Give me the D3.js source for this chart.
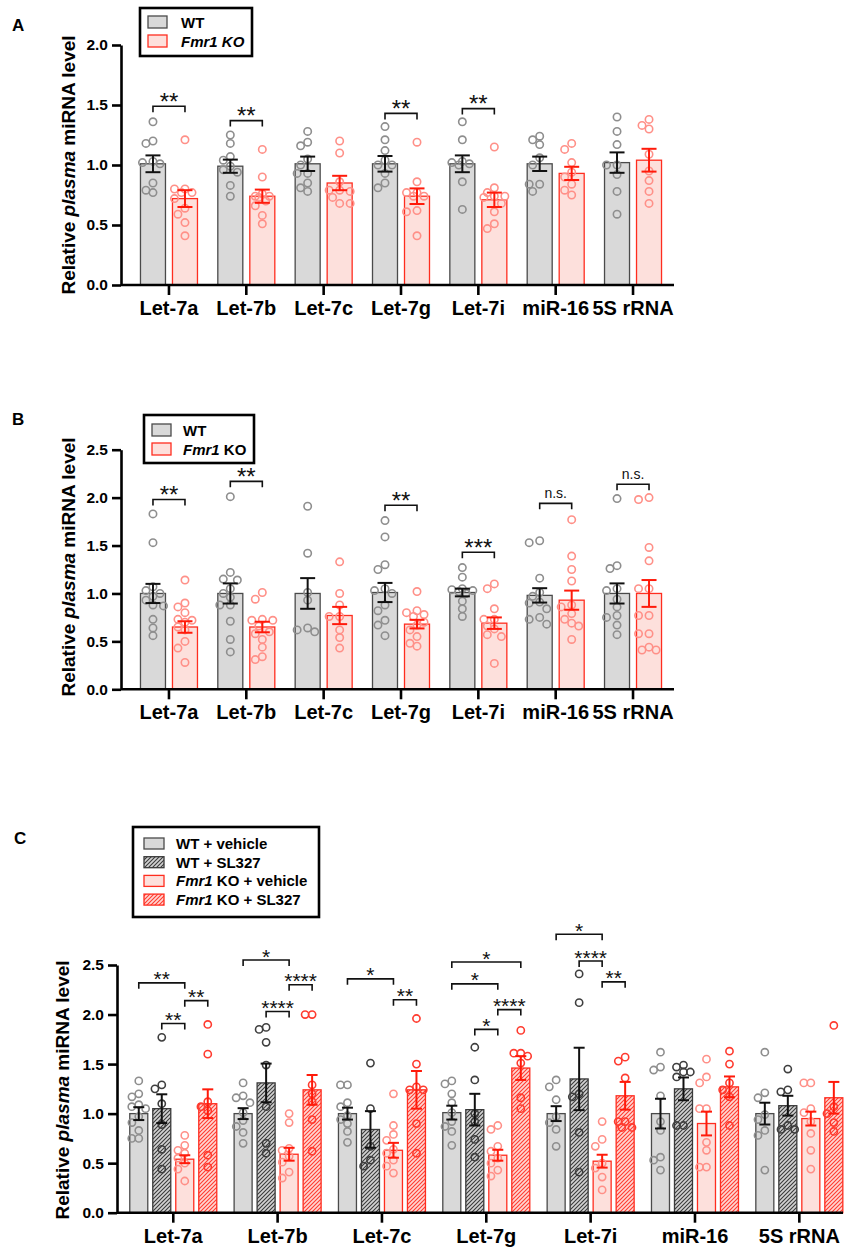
<!DOCTYPE html>
<html>
<head>
<meta charset="utf-8">
<script src="https://cdn.jsdelivr.net/npm/d3@7"></script>
<style>
  body { margin: 0; background: #fff; }
  text { font-family: "Liberation Sans", Arial, sans-serif; }
</style>
</head>
<body>
<div id="chart"></div>
<script>
// ---- data ----
const categories = ['Let-7a', 'Let-7b', 'Let-7c', 'Let-7g', 'Let-7i', 'miR-16', '5S rRNA']

// panel A
const aWtMean = [1.01, 0.99, 1.01, 1.01, 1.01, 1.01, 1.02]
const aWtSem  = [0.07, 0.055, 0.06, 0.065, 0.07, 0.06, 0.085]
const aKoMean = [0.72, 0.74, 0.85, 0.74, 0.71, 0.93, 1.04]
const aKoSem  = [0.07, 0.055, 0.06, 0.065, 0.06, 0.055, 0.095]
const aWtPts = [
  [1.36, 1.20, 1.18, 1.03, 1.02, 1.01, 0.85, 0.79, 0.77],
  [1.25, 1.18, 1.07, 1.04, 0.99, 0.96, 0.94, 0.83, 0.74],
  [1.28, 1.19, 1.16, 1.05, 1.00, 0.93, 0.93, 0.85, 0.81, 0.78],
  [1.32, 1.21, 1.12, 1.04, 1.00, 1.00, 0.93, 0.85, 0.81],
  [1.36, 1.21, 1.03, 1.02, 1.01, 1.00, 0.86, 0.63],
  [1.24, 1.21, 1.17, 1.06, 1.00, 0.84, 0.84, 0.78],
  [1.40, 1.28, 1.17, 1.00, 1.00, 0.92, 0.78, 0.59]
]
const aKoPts = [
  [1.21, 0.80, 0.80, 0.77, 0.77, 0.72, 0.64, 0.59, 0.52, 0.41],
  [1.13, 0.90, 0.76, 0.74, 0.74, 0.73, 0.70, 0.66, 0.58, 0.51],
  [1.20, 1.10, 0.86, 0.79, 0.79, 0.78, 0.73, 0.68, 0.68],
  [1.19, 0.86, 0.77, 0.77, 0.74, 0.74, 0.62, 0.61, 0.41],
  [1.15, 0.81, 0.77, 0.74, 0.74, 0.73, 0.68, 0.61, 0.51, 0.47],
  [1.18, 1.13, 1.02, 0.94, 0.90, 0.84, 0.79, 0.75],
  [1.38, 1.33, 1.30, 1.09, 0.95, 0.87, 0.78, 0.68]
]
const aSig = [
  {cat: 'Let-7a', y: 1.49, label: '**'},
  {cat: 'Let-7b', y: 1.37, label: '**'},
  {cat: 'Let-7g', y: 1.43, label: '**'},
  {cat: 'Let-7i', y: 1.47, label: '**'}
]

// panel B
const bWtMean = [1.00, 1.00, 1.00, 1.01, 1.01, 0.98, 1.00]
const bWtSem  = [0.10, 0.105, 0.16, 0.10, 0.04, 0.075, 0.105]
const bKoMean = [0.65, 0.65, 0.77, 0.68, 0.69, 0.93, 1.00]
const bKoSem  = [0.06, 0.055, 0.09, 0.045, 0.06, 0.10, 0.14]
const bWtPts = [
  [1.83, 1.53, 1.07, 1.03, 1.00, 0.97, 0.93, 0.88, 0.87, 0.73, 0.64, 0.56],
  [2.01, 1.22, 1.15, 1.14, 1.05, 1.00, 0.96, 0.88, 0.88, 0.71, 0.52, 0.39],
  [1.91, 1.42, 1.01, 0.93, 0.64, 0.62, 0.60],
  [1.76, 1.59, 1.30, 1.25, 1.05, 1.03, 1.00, 0.88, 0.82, 0.72, 0.67, 0.56],
  [1.27, 1.17, 1.05, 1.04, 1.03, 1.02, 1.00, 0.92, 0.84, 0.76],
  [1.55, 1.53, 1.16, 1.01, 0.97, 0.91, 0.90, 0.84, 0.75, 0.73, 0.68],
  [1.99, 1.29, 1.26, 1.05, 1.03, 0.94, 0.86, 0.77, 0.75, 0.67, 0.57]
]
const bKoPts = [
  [1.14, 0.90, 0.86, 0.80, 0.73, 0.72, 0.70, 0.65, 0.62, 0.50, 0.43, 0.28],
  [1.01, 0.94, 0.73, 0.72, 0.72, 0.66, 0.60, 0.58, 0.52, 0.44, 0.34, 0.31],
  [1.33, 1.00, 0.88, 0.76, 0.76, 0.62, 0.54, 0.43],
  [1.02, 0.82, 0.80, 0.78, 0.76, 0.70, 0.67, 0.62, 0.55, 0.48, 0.45],
  [1.10, 1.05, 0.84, 0.73, 0.73, 0.66, 0.63, 0.57, 0.55, 0.27],
  [1.77, 1.39, 1.25, 1.13, 0.88, 0.86, 0.79, 0.73, 0.69, 0.66, 0.52],
  [2.00, 1.98, 1.48, 1.34, 1.05, 1.05, 0.77, 0.77, 0.58, 0.58, 0.44, 0.41, 0.41]
]
const bSig = [
  {cat: 'Let-7a', y: 1.98, label: '**'},
  {cat: 'Let-7b', y: 2.17, label: '**'},
  {cat: 'Let-7g', y: 1.92, label: '**'},
  {cat: 'Let-7i', y: 1.43, label: '***'},
  {cat: 'miR-16', y: 1.94, label: 'n.s.'},
  {cat: '5S rRNA', y: 2.14, label: 'n.s.'}
]

// panel C
const cWtVehMean = [1.00, 1.00, 1.00, 1.01, 1.00, 1.00, 1.00]
const cWtVehSem  = [0.065, 0.055, 0.06, 0.07, 0.075, 0.15, 0.11]
const cWtSlMean  = [1.05, 1.31, 0.84, 1.04, 1.35, 1.25, 1.08]
const cWtSlSem   = [0.145, 0.195, 0.185, 0.16, 0.315, 0.115, 0.10]
const cKoVehMean = [0.54, 0.59, 0.63, 0.58, 0.52, 0.90, 0.95]
const cKoVehSem  = [0.04, 0.065, 0.075, 0.055, 0.065, 0.12, 0.07]
const cKoSlMean  = [1.10, 1.24, 1.24, 1.46, 1.18, 1.27, 1.16]
const cKoSlSem   = [0.145, 0.15, 0.19, 0.12, 0.14, 0.105, 0.16]
const cWtVehPts = [
  [1.33, 1.20, 1.17, 1.09, 1.07, 1.05, 0.97, 0.91, 0.83, 0.75, 0.75],
  [1.31, 1.18, 1.16, 1.11, 1.01, 0.93, 0.87, 0.81, 0.70],
  [1.29, 1.29, 1.11, 1.07, 0.98, 0.94, 0.90, 0.82, 0.71],
  [1.33, 1.30, 1.20, 1.11, 1.01, 0.92, 0.87, 0.82, 0.68],
  [1.34, 1.27, 1.14, 0.97, 0.91, 0.84, 0.67],
  [1.62, 1.47, 1.44, 1.18, 0.92, 0.83, 0.56, 0.53, 0.43],
  [1.62, 1.21, 1.16, 0.99, 0.94, 0.83, 0.78, 0.43]
]
const cWtSlPts = [
  [1.77, 1.29, 1.25, 1.10, 0.89, 0.64, 0.44],
  [1.87, 1.85, 1.72, 1.49, 1.07, 0.70, 0.60],
  [1.51, 1.05, 0.67, 0.53, 0.47],
  [1.67, 1.34, 1.00, 0.92, 0.74, 0.56],
  [2.41, 2.12, 1.20, 1.17, 0.81, 0.41],
  [1.49, 1.47, 1.42, 1.42, 1.37, 0.88, 0.88],
  [1.45, 1.24, 1.22, 0.88, 0.84, 0.84]
]
const cKoVehPts = [
  [0.78, 0.68, 0.63, 0.60, 0.55, 0.50, 0.44, 0.32],
  [1.00, 0.91, 0.65, 0.63, 0.57, 0.51, 0.41, 0.35],
  [1.20, 0.88, 0.79, 0.73, 0.64, 0.60, 0.53, 0.47, 0.40],
  [0.88, 0.84, 0.67, 0.62, 0.55, 0.50, 0.43, 0.37],
  [0.92, 0.74, 0.67, 0.50, 0.45, 0.36, 0.23],
  [1.55, 1.37, 1.31, 1.05, 1.05, 0.71, 0.63, 0.46, 0.46],
  [1.31, 1.31, 1.05, 1.01, 0.92, 0.80, 0.63, 0.44]
]
const cKoSlPts = [
  [1.90, 1.60, 1.12, 1.07, 1.03, 0.58, 0.46],
  [2.00, 2.00, 1.29, 1.20, 1.12, 0.94, 0.62],
  [1.96, 1.50, 1.27, 1.24, 1.24, 0.90, 0.60],
  [1.84, 1.61, 1.61, 1.58, 1.51, 1.16, 1.05],
  [1.57, 1.53, 1.36, 0.92, 0.92, 0.86, 0.86],
  [1.63, 1.50, 1.31, 1.24, 1.17, 0.88],
  [1.89, 1.07, 1.00, 0.91, 0.82]
]
// group index: 0 WT+veh, 1 WT+SL327, 2 KO+veh, 3 KO+SL327
const cSig = [
  {cat: 'Let-7a', from: 0, to: 2, y: 2.32, label: '**'},
  {cat: 'Let-7a', from: 1, to: 2, y: 1.91, label: '**'},
  {cat: 'Let-7a', from: 2, to: 3, y: 2.14, label: '**'},
  {cat: 'Let-7b', from: 0, to: 2, y: 2.55, label: '*'},
  {cat: 'Let-7b', from: 1, to: 2, y: 2.03, label: '****'},
  {cat: 'Let-7b', from: 2, to: 3, y: 2.30, label: '****'},
  {cat: 'Let-7c', from: 0, to: 2, y: 2.36, label: '*'},
  {cat: 'Let-7c', from: 2, to: 3, y: 2.15, label: '**'},
  {cat: 'Let-7g', from: 0, to: 3, y: 2.53, label: '*'},
  {cat: 'Let-7g', from: 0, to: 2, y: 2.31, label: '*'},
  {cat: 'Let-7g', from: 2, to: 3, y: 2.05, label: '****'},
  {cat: 'Let-7g', from: 1, to: 2, y: 1.85, label: '*'},
  {cat: 'Let-7i', from: 0, to: 2, y: 2.81, label: '*'},
  {cat: 'Let-7i', from: 1, to: 2, y: 2.54, label: '****'},
  {cat: 'Let-7i', from: 2, to: 3, y: 2.33, label: '**'}
]

// ---- drawing ----
const svg = d3.select('#chart').append('svg')
  .attr('width', 845).attr('height', 1249)

const defs = svg.append('defs')
function hatch(id, bg, line) {
  const p = defs.append('pattern').attr('id', id)
    .attr('patternUnits', 'userSpaceOnUse').attr('width', 4).attr('height', 4)
  p.append('rect').attr('width', 4).attr('height', 4).attr('fill', bg)
  p.append('path').attr('d', 'M-1,1 l2,-2 M0,4 l4,-4 M3,5 l2,-2')
    .attr('stroke', line).attr('stroke-width', 1.1)
}
hatch('hatchWT', '#d2d2d2', '#3a3a3a')
hatch('hatchKO', '#ffd6d2', '#ff3b2f')

const WT = {fill: '#d9d9d9', stroke: '#4a4a4a', pt: '#8e8e8e', err: '#111'}
const KO = {fill: '#fde0dc', stroke: '#ff2d1f', pt: '#ff9088', err: '#ff1a0a'}
const WTSL = {fill: 'url(#hatchWT)', stroke: '#3a3a3a', pt: '#3f3f3f', err: '#111'}
const KOSL = {fill: 'url(#hatchKO)', stroke: '#ff2d1f', pt: '#ff3b2f', err: '#ff1a0a'}

// place points side by side when they would overlap
function swarm(vals, y, maxOff, r) {
  const placed = []
  const step = r * 1.9
  const cands = [0, -step, step, -step / 2, step / 2, -step * 1.5, step * 1.5]
    .map(o => Math.max(-maxOff, Math.min(maxOff, o)))
  return vals.map(v => {
    const py = y(v)
    let best = 0, bestD = -1
    for (const o of cands) {
      const d = placed.length ? d3.min(placed, q => Math.hypot(q[0] - o, q[1] - py)) : 99
      if (d >= 2 * r) { best = o; bestD = 99; break }
      if (d > bestD) { bestD = d; best = o }
    }
    placed.push([best, py])
    return [best, py]
  })
}

function drawPanel(p) {
  const g = svg.append('g')
  const y = d3.scaleLinear().domain([0, p.yMax]).range([p.y0, p.yTop])
  const x = d3.scaleBand().domain(categories).range(p.band)
  const cx = (c, si) => x(c) + x.bandwidth() / 2 + p.offsets[si]

  // bars
  p.series.forEach((s, si) => {
    g.append('g').selectAll('rect').data(categories).join('rect')
      .attr('x', c => cx(c, si) - p.barW / 2)
      .attr('y', (c, i) => y(s.mean[i]))
      .attr('width', p.barW)
      .attr('height', (c, i) => p.y0 - y(s.mean[i]))
      .attr('fill', s.style.fill)
      .attr('stroke', s.style.stroke)
      .attr('stroke-width', 1.3)
  })

  // dots
  p.series.forEach((s, si) => {
    categories.forEach((c, i) => {
      const pos = swarm(s.pts[i], y, p.barW / 2 - 2, p.r)
      g.append('g').selectAll('circle').data(pos).join('circle')
        .attr('cx', d => cx(c, si) + d[0])
        .attr('cy', d => d[1])
        .attr('r', p.r)
        .attr('fill', 'none')
        .attr('stroke', s.style.pt)
        .attr('stroke-width', 1.6)
    })
  })

  // error bars (mean +/- SEM)
  p.series.forEach((s, si) => {
    const eg = g.append('g').attr('stroke', s.style.err).attr('stroke-width', 2)
    categories.forEach((c, i) => {
      const xc = cx(c, si)
      const hi = y(s.mean[i] + s.sem[i]), lo = y(s.mean[i] - s.sem[i])
      eg.append('line').attr('x1', xc).attr('x2', xc).attr('y1', hi).attr('y2', lo)
      eg.append('line').attr('x1', xc - p.cap).attr('x2', xc + p.cap).attr('y1', hi).attr('y2', hi)
      eg.append('line').attr('x1', xc - p.cap).attr('x2', xc + p.cap).attr('y1', lo).attr('y2', lo)
    })
  })

  // significance brackets
  const sg = g.append('g')
  p.sig.forEach(d => {
    const x1 = cx(d.cat, d.from ?? 0), x2 = cx(d.cat, d.to ?? 1), yy = y(d.y)
    sg.append('path')
      .attr('d', `M${x1},${yy + 6}V${yy}H${x2}V${yy + 6}`)
      .attr('fill', 'none').attr('stroke', '#111').attr('stroke-width', 1.6)
    const ns = d.label === 'n.s.'
    sg.append('text')
      .attr('x', (x1 + x2) / 2)
      .attr('y', ns ? yy - 5 : yy + p.starShift)
      .attr('text-anchor', 'middle')
      .attr('font-size', ns ? 14 : p.starSize)
      .attr('fill', '#111')
      .text(d.label)
  })

  // y axis
  const ya = g.append('g').attr('transform', `translate(${p.axisX},0)`)
    .call(d3.axisLeft(y).tickValues(d3.range(0, p.yMax + 0.01, 0.5))
      .tickFormat(d3.format('.1f')).tickSize(9).tickSizeOuter(0).tickPadding(4))
  ya.selectAll('path, line').attr('stroke', '#000').attr('stroke-width', 2.6)
  ya.selectAll('text').attr('font-size', 15.5).attr('font-weight', 'bold').attr('fill', '#000')

  // x axis
  const xa = g.append('g').attr('transform', `translate(0,${p.y0})`)
    .call(d3.axisBottom(x).tickSize(10).tickSizeOuter(0).tickPadding(6))
  xa.select('.domain').remove()
  xa.append('line').attr('x1', p.axisX).attr('x2', p.axisEnd)
    .attr('stroke', '#000').attr('stroke-width', 2.6)
  xa.selectAll('.tick line').attr('stroke', '#000').attr('stroke-width', 2.6)
  xa.selectAll('text').attr('font-size', 20).attr('font-weight', 'bold').attr('fill', '#000')

  // y title
  const t = g.append('text')
    .attr('transform', `translate(${p.titleX},${p.titleY}) rotate(-90)`)
    .attr('text-anchor', 'middle').attr('font-size', 19).attr('font-weight', 'bold')
  t.append('tspan').text('Relative ')
  t.append('tspan').attr('font-style', 'italic').text('plasma')
  t.append('tspan').text(' miRNA level')

  // panel letter
  g.append('text').attr('x', p.letterX).attr('y', p.letterY)
    .attr('font-size', 17).attr('font-weight', 'bold').text(p.letter)

  // legend
  const lg = g.append('g')
  lg.append('rect').attr('x', p.legend.x).attr('y', p.legend.y)
    .attr('width', p.legend.w).attr('height', p.legend.h)
    .attr('fill', '#fff').attr('stroke', '#000').attr('stroke-width', 2.6)
  p.legend.items.forEach((it, k) => {
    const yc = p.legend.y0 + k * p.legend.dy
    lg.append('rect').attr('x', p.legend.sx).attr('y', yc - p.legend.sh / 2)
      .attr('width', p.legend.sw).attr('height', p.legend.sh)
      .attr('fill', it.style.fill).attr('stroke', it.style.stroke).attr('stroke-width', 1.3)
    const tx = lg.append('text').attr('x', p.legend.tx).attr('y', yc + 5.5)
      .attr('font-size', 15).attr('font-weight', 'bold')
    it.parts.forEach(pt => tx.append('tspan').attr('font-style', pt[1] ? 'italic' : 'normal').text(pt[0]))
  })
}

drawPanel({
  letter: 'A', letterX: 12, letterY: 31,
  y0: 285, yTop: 45, yMax: 2.0, axisX: 121, axisEnd: 674, band: [130.3, 671.7],
  barW: 25, offsets: [-16, 16], r: 3.7, cap: 7.5, starSize: 24, starShift: 3.5,
  titleX: 75, titleY: 165,
  series: [
    {mean: aWtMean, sem: aWtSem, pts: aWtPts, style: WT},
    {mean: aKoMean, sem: aKoSem, pts: aKoPts, style: KO}
  ],
  sig: aSig,
  legend: {x: 140, y: 8, w: 112, h: 48, y0: 22, dy: 19, sx: 148, sw: 19, sh: 12, tx: 181,
    items: [
      {style: WT, parts: [['WT', false]]},
      {style: KO, parts: [['Fmr1 KO', true]]}
    ]}
})

drawPanel({
  letter: 'B', letterX: 12, letterY: 425,
  y0: 689.3, yTop: 449.7, yMax: 2.5, axisX: 121, axisEnd: 674, band: [130.3, 671.7],
  barW: 25, offsets: [-16, 16], r: 3.7, cap: 7.5, starSize: 24, starShift: 3.5,
  titleX: 75, titleY: 567,
  series: [
    {mean: bWtMean, sem: bWtSem, pts: bWtPts, style: WT},
    {mean: bKoMean, sem: bKoSem, pts: bKoPts, style: KO}
  ],
  sig: bSig,
  legend: {x: 144, y: 415, w: 110, h: 48, y0: 430, dy: 19, sx: 152, sw: 19, sh: 12, tx: 183,
    items: [
      {style: WT, parts: [['WT', false]]},
      {style: KO, parts: [['Fmr1', true], [' KO', false]]}
    ]}
})

drawPanel({
  letter: 'C', letterX: 14, letterY: 844,
  y0: 1212.7, yTop: 965, yMax: 2.5, axisX: 117, axisEnd: 843, band: [121.1, 851.5],
  barW: 18, offsets: [-34.5, -11.5, 11.5, 34.5], r: 3.6, cap: 5.5, starSize: 21, starShift: 3.5,
  titleX: 69, titleY: 1090,
  series: [
    {mean: cWtVehMean, sem: cWtVehSem, pts: cWtVehPts, style: WT},
    {mean: cWtSlMean, sem: cWtSlSem, pts: cWtSlPts, style: WTSL},
    {mean: cKoVehMean, sem: cKoVehSem, pts: cKoVehPts, style: KO},
    {mean: cKoSlMean, sem: cKoSlSem, pts: cKoSlPts, style: KOSL}
  ],
  sig: cSig,
  legend: {x: 133, y: 827, w: 186, h: 90, y0: 843.5, dy: 18.7, sx: 144, sw: 20, sh: 11, tx: 176,
    items: [
      {style: WT, parts: [['WT + vehicle', false]]},
      {style: WTSL, parts: [['WT + SL327', false]]},
      {style: KO, parts: [['Fmr1', true], [' KO + vehicle', false]]},
      {style: KOSL, parts: [['Fmr1', true], [' KO + SL327', false]]}
    ]}
})
</script>
</body>
</html>
